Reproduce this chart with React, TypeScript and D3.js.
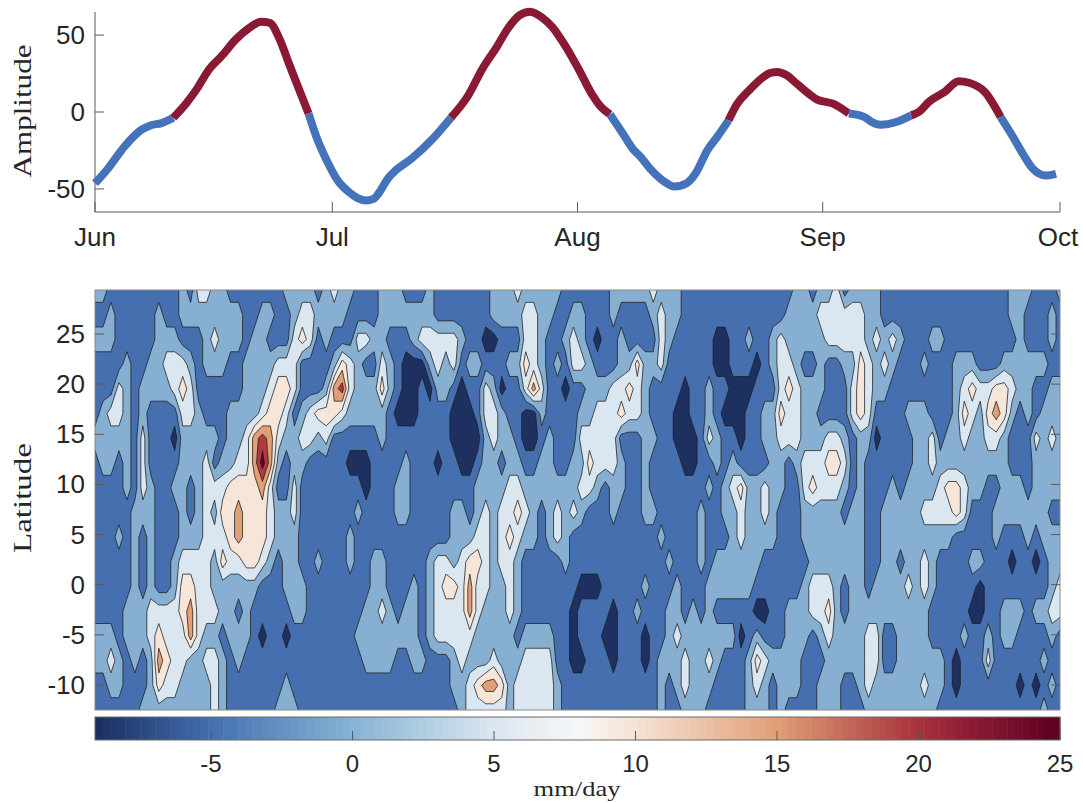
import React, { useEffect, useRef } from "react";
import * as d3 from "d3";

// top panel: amplitude
const ampDays = [0, 1.6, 3.8, 5.9, 7, 8.4, 9.9, 11.5, 12.9, 14.4, 16, 17.8, 19.6, 21, 22.1, 23.3, 24.6, 26, 27, 28, 29.3, 30.7, 32.1, 33.2, 34.3, 35.2, 36.1, 37, 38, 40, 42.7, 45, 47.2, 49, 50.8, 52.2, 53.7, 55, 56.5, 57.8, 59.4, 61.1, 62.9, 63.8, 65.1, 66.6, 68, 69, 70.2, 71.5, 72.4, 73.2, 74.8, 75.9, 77.4, 78.8, 80.1, 81.2, 82.7, 84.5, 85.4, 86.3, 87.4, 88.7, 90.2, 91.3, 93.3, 95.3, 97.3, 98.2, 99.3, 101.3, 103.2, 104.3, 105.4, 107.4, 109.2, 110.5, 112.5, 114.5, 115.8, 117.4, 118.5, 120.2, 121.5];
const ampValues = [-46.3, -37, -22, -11.5, -8.7, -7.2, -3.7, 5.4, 15.2, 27.6, 36.3, 47.2, 55, 58.7, 58, 47.8, 30.4, 12, -1, -16.3, -31.5, -44.6, -52, -56, -57.6, -56.5, -51, -43.5, -38, -30.4, -17.4, -3.7, 10.9, 28.3, 42.4, 54.3, 63, 65.2, 61.5, 55.4, 43.5, 28.3, 10.9, 4.3, -1.5, -13, -24, -29.3, -37, -43.5, -46.7, -48.5, -46.3, -40.2, -25, -15.2, -5.4, 5.4, 14.1, 22.8, 25.4, 26, 24, 18.5, 12, 8, 5.4, -1, -3.3, -6.5, -8.3, -6.5, -2.2, 0.6, 6.5, 13, 20, 19, 13, -3.3, -14, -28, -36.5, -41.3, -40.2];
// days where the curve swaps colour, starting blue
const phaseSwitchDays = [9.9, 27, 45, 65.1, 80.1, 95.3, 103.2, 114.5];
const monthDays = [0, 30, 61, 92, 122];
const monthLabels = ["Jun", "Jul", "Aug", "Sep", "Oct"];
const ampTicks = [-50, 0, 50];

// bottom panel
const latTicks = [-10, -5, 0, 5, 10, 15, 20, 25];
const cbTicks = [-5, 0, 5, 10, 15, 20, 25];
const contourLevels = [-5, 0, 5, 10, 15, 20, 25];
const bandValues = [-7.5, -2.5, 2.5, 7.5, 12.5, 17.5, 22.5, 27.5];
const bandColors = ["#1d3060", "#456fae", "#87afd2", "#dae6f0", "#f6e5d9", "#e09f76", "#b03a40", "#67001f"];
const cmapValues = [-9.1, -5, 0, 5, 8, 10, 15, 20, 22, 25];
const cmapColors = ["#1b2d5f", "#4270b0", "#86b3d4", "#dbe6f0", "#f7f7f7", "#f6e2d3", "#e09f76", "#a8323c", "#8a1a33", "#5a0020"];

// rain rows from north to south, as band, end-day pairs (run lengths over 122 days)
const rainRuns = [
  [2,2, 1,11, 2,12, 1,13, 3,15, 2,17, 1,24, 2,28, 1,29, 2,30, 3,31, 2,33, 1,36, 2,39, 1,42, 2,43, 1,50, 2,53, 3,54, 2,59, 1,65, 2,70, 3,71, 2,74, 1,88, 2,90, 1,91, 2,93, 3,94, 1,95, 2,99, 1,115, 2,118, 1,121, 2,122],
  [1,2, 2,3, 1,8, 2,9, 1,11, 2,19, 1,21, 2,23, 1,25, 2,26, 3,28, 2,32, 1,36, 2,43, 1,50, 2,54, 3,56, 2,58, 1,60, 2,62, 1,65, 2,66, 1,70, 2,71, 3,72, 2,74, 1,87, 2,91, 3,97, 2,99, 1,115, 2,117, 1,120, 2,121, 1,122],
  [2,3, 1,8, 2,11, 1,14, 2,15, 3,16, 2,19, 1,20, 2,22, 1,25, 3,26, 4,27, 3,28, 1,29, 2,30, 1,33, 3,35, 2,37, 1,40, 2,41, 3,46, 2,47, 1,49, 0,51, 1,54, 3,56, 2,57, 1,59, 2,60, 3,61, 2,62, 1,63, 0,64, 1,66, 2,67, 1,71, 3,72, 2,73, 1,78, 0,80, 1,82, 2,83, 1,85, 2,86, 3,87, 2,92, 3,97, 2,98, 3,99, 2,100, 3,101, 2,102, 1,105, 2,107, 1,116, 2,117, 1,120, 2,121, 1,122],
  [1,4, 2,5, 1,7, 2,9, 3,12, 2,13, 1,14, 2,17, 1,19, 2,23, 3,26, 1,30, 2,31, 4,32, 3,33, 2,34, 1,36, 3,37, 2,38, 1,39, 0,42, 2,43, 3,44, 2,45, 3,46, 1,47, 2,49, 1,52, 2,54, 4,55, 3,56, 2,57, 1,58, 2,59, 1,60, 3,62, 2,63, 1,66, 2,68, 4,69, 2,71, 3,72, 1,78, 0,80, 1,83, 0,84, 1,85, 2,86, 3,88, 2,89, 1,91, 2,92, 1,94, 2,96, 4,97, 3,98, 2,99, 3,100, 2,101, 1,104, 2,105, 1,108, 2,111, 1,114, 2,120, 1,122],
  [1,3, 3,4, 2,5, 1,6, 2,10, 3,11, 4,12, 3,13, 1,19, 2,22, 3,23, 4,25, 3,26, 1,29, 2,30, 5,31, 6,32, 3,33, 2,36, 4,37, 2,38, 1,39, 0,41, 1,42, 0,43, 2,45, 1,46, 0,47, 1,49, 3,50, 2,51, 0,52, 1,54, 3,55, 5,56, 3,57, 1,59, 0,60, 1,62, 2,65, 3,67, 4,68, 3,69, 2,70, 1,74, 0,75, 1,77, 2,78, 1,80, 0,83, 1,86, 3,87, 4,88, 3,89, 2,92, 1,95, 3,96, 4,97, 3,98, 2,100, 1,108, 2,109, 3,110, 4,111, 3,113, 4,115, 3,116, 2,118, 1,120, 2,122],
  [1,1, 2,2, 3,4, 2,5, 1,6, 2,7, 1,11, 3,13, 2,14, 1,17, 2,21, 3,22, 4,24, 3,25, 1,26, 2,27, 3,28, 4,31, 3,32, 2,37, 1,38, 0,41, 1,45, 0,48, 1,49, 3,51, 2,52, 1,54, 0,56, 2,57, 1,61, 2,63, 3,66, 4,67, 3,69, 2,70, 1,73, 0,75, 1,77, 2,78, 1,79, 0,82, 1,84, 2,86, 4,87, 3,89, 2,91, 1,95, 3,96, 4,97, 3,98, 1,102, 2,105, 1,108, 2,109, 4,110, 3,111, 2,112, 4,113, 5,114, 4,115, 2,116, 1,117, 2,118, 1,119, 2,122],
  [2,5, 1,6, 3,7, 1,10, 0,11, 2,16, 1,17, 2,19, 3,20, 5,21, 6,22, 5,23, 3,24, 2,26, 3,28, 2,29, 3,30, 1,36, 2,37, 1,45, 0,49, 2,50, 3,51, 2,53, 1,54, 0,56, 1,57, 2,58, 1,61, 3,66, 1,69, 2,71, 1,73, 0,76, 1,77, 3,78, 2,79, 1,81, 0,82, 1,84, 2,86, 3,89, 2,92, 3,94, 2,95, 1,96, 2,98, 0,99, 1,103, 2,105, 3,106, 1,107, 2,109, 3,110, 2,112, 3,114, 2,115, 1,118, 3,119, 2,120, 3,121, 2,122],
  [1,1, 2,3, 1,4, 2,5, 1,6, 3,7, 1,11, 2,14, 3,15, 1,16, 2,18, 3,20, 5,21, 7,22, 5,23, 2,24, 1,25, 2,27, 1,32, 0,35, 1,39, 2,40, 1,43, 0,44, 1,46, 0,48, 1,49, 2,51, 1,52, 2,54, 1,56, 2,58, 1,60, 2,62, 4,63, 3,66, 2,67, 1,69, 2,70, 1,74, 0,76, 1,78, 2,79, 1,80, 2,81, 1,85, 2,87, 1,88, 2,89, 3,92, 4,94, 3,95, 1,96, 2,97, 1,103, 2,105, 3,106, 2,115, 1,118, 2,122],
  [1,4, 2,5, 1,6, 3,7, 2,8, 1,10, 2,12, 1,13, 2,14, 3,17, 4,21, 5,22, 3,23, 1,25, 3,26, 1,34, 0,35, 1,38, 2,40, 1,48, 2,52, 3,54, 2,61, 3,63, 2,64, 1,65, 2,67, 1,69, 2,70, 1,77, 2,78, 1,79, 2,80, 3,81, 4,82, 2,84, 3,85, 2,87, 1,89, 3,90, 4,91, 3,94, 2,95, 1,96, 2,97, 1,100, 2,101, 1,102, 2,106, 3,107, 4,109, 3,110, 2,112, 1,114, 2,117, 1,118, 2,122],
  [1,5, 2,8, 1,11, 2,12, 1,13, 2,14, 3,15, 2,16, 4,18, 5,19, 4,22, 3,23, 2,25, 3,26, 1,33, 2,34, 1,38, 2,40, 1,45, 2,47, 1,48, 2,49, 3,50, 2,51, 3,53, 4,54, 3,55, 2,56, 1,57, 2,58, 3,59, 2,60, 3,61, 2,62, 1,65, 2,66, 1,69, 2,71, 1,76, 2,77, 1,79, 2,81, 3,82, 2,84, 3,85, 2,86, 1,89, 2,94, 1,95, 2,97, 1,99, 2,104, 3,108, 4,109, 3,110, 1,113, 2,120, 1,122],
  [1,3, 2,4, 1,5, 2,6, 1,7, 2,8, 1,11, 2,14, 3,17, 4,18, 5,19, 4,22, 3,23, 2,26, 1,32, 2,33, 1,45, 2,48, 3,50, 2,51, 3,52, 4,53, 3,54, 2,56, 1,57, 2,58, 3,59, 2,60, 1,71, 2,72, 1,76, 2,77, 1,80, 2,81, 3,82, 2,86, 1,89, 2,97, 1,99, 2,108, 1,113, 2,114, 1,117, 2,118, 1,119, 2,122],
  [1,5, 2,6, 1,7, 2,8, 1,10, 2,11, 3,15, 2,16, 4,17, 3,19, 4,21, 3,22, 2,23, 1,24, 2,26, 1,28, 2,29, 1,32, 2,33, 1,35, 2,37, 1,42, 2,43, 3,45, 2,46, 3,47, 4,49, 3,50, 2,51, 3,53, 2,54, 1,59, 2,60, 1,72, 2,73, 1,76, 2,77, 1,78, 2,84, 1,90, 2,97, 1,99, 2,101, 1,102, 2,104, 3,105, 2,106, 1,110, 2,112, 1,115, 0,116, 1,118, 0,119, 1,120, 2,122],
  [1,5, 2,6, 1,7, 2,8, 1,10, 2,11, 4,13, 3,15, 2,21, 1,24, 2,27, 1,35, 2,37, 1,40, 2,41, 1,42, 2,43, 3,44, 4,46, 3,47, 5,48, 3,50, 2,52, 3,53, 2,54, 1,61, 0,64, 1,69, 2,70, 1,73, 2,74, 1,77, 2,83, 1,89, 2,90, 3,93, 2,94, 1,95, 2,97, 1,98, 2,102, 3,103, 2,104, 3,105, 2,106, 1,111, 0,112, 1,120, 2,121, 3,122],
  [1,4, 2,7, 3,11, 4,12, 5,13, 3,16, 2,18, 1,19, 2,20, 1,25, 2,27, 1,34, 2,36, 3,37, 2,38, 1,39, 2,41, 1,42, 2,43, 3,47, 5,48, 3,49, 2,52, 3,53, 2,54, 1,60, 0,61, 1,65, 0,66, 1,68, 2,69, 1,72, 2,74, 1,75, 2,76, 1,77, 2,78, 1,83, 0,85, 1,87, 2,90, 3,92, 4,93, 2,94, 1,95, 2,105, 1,110, 0,112, 1,114, 2,117, 1,118, 2,120, 3,122],
  [2,3, 1,4, 2,7, 3,8, 4,9, 3,12, 5,13, 3,14, 2,16, 1,17, 2,20, 1,21, 0,22, 1,24, 0,25, 1,33, 2,41, 1,42, 2,43, 3,48, 2,53, 1,54, 2,58, 1,60, 0,61, 1,64, 0,66, 1,69, 0,70, 1,72, 2,73, 3,74, 2,81, 0,82, 1,83, 2,84, 1,87, 2,90, 1,91, 2,92, 3,93, 2,97, 3,99, 1,101, 2,105, 1,109, 2,110, 1,112, 2,113, 1,114, 2,116, 1,120, 2,121, 1,122],
  [2,2, 3,3, 2,4, 1,5, 2,6, 1,7, 2,8, 5,9, 4,10, 3,12, 2,14, 3,16, 2,17, 1,18, 2,19, 1,34, 2,38, 1,40, 2,42, 1,45, 2,46, 3,47, 2,50, 3,51, 2,54, 3,58, 1,60, 0,62, 1,65, 0,66, 1,69, 0,70, 1,71, 2,74, 3,75, 2,77, 3,78, 2,79, 1,82, 2,83, 4,84, 3,85, 2,89, 1,92, 2,97, 3,99, 1,101, 2,107, 1,108, 0,109, 1,112, 3,113, 1,119, 2,120, 1,122],
  [1,2, 2,4, 1,7, 2,8, 4,9, 3,11, 2,15, 3,16, 2,17, 1,24, 2,25, 1,45, 2,47, 3,48, 4,49, 5,51, 4,52, 2,53, 3,58, 2,59, 1,71, 2,72, 1,73, 2,74, 3,75, 2,78, 1,82, 2,83, 3,84, 2,85, 1,86, 2,89, 1,91, 2,94, 1,96, 2,97, 3,98, 2,104, 3,105, 2,107, 1,108, 0,109, 1,116, 0,117, 1,118, 0,119, 1,120, 2,121, 1,122],
  [1,6, 2,15, 3,16, 2,17, 1,23, 2,26, 1,46, 2,47, 3,52, 2,53, 3,58, 2,59, 1,71, 2,72, 1,74, 2,77, 1,82, 2,85, 1,86, 2,87, 1,91, 2,94, 1,97, 2,106, 1,119, 2,120, 1,122],
];

const nCols = 122;
const nRows = rainRuns.length;

const textCol = "#262626";
const axisCol = "#5a5a5a";
const sansFont = "'Liberation Sans', Arial, sans-serif";
const serifFont = "'Liberation Serif', serif";

const App = () => {
  const svgRef = useRef<SVGSVGElement>(null);

  useEffect(() => {
    const svg = d3.select(svgRef.current);
    svg.selectAll("*").remove();

    const left = 95;
    const right = 1060;

    // amplitude panel
    const xDay = d3.scaleLinear().domain([0, 122]).range([left, right]);
    const yAmp = d3.scaleLinear().domain([-65, 65]).range([212, 12]);
    const ampPts = ampDays.map((d, i) => ({ d, v: ampValues[i] }));
    const edges = [0, ...phaseSwitchDays, 122];
    const ampLine = d3.line<any>().x((p) => xDay(p.d)).y((p) => yAmp(p.v)).curve(d3.curveMonotoneX);

    const top = svg.append("g");
    top.append("line").attr("x1", left).attr("x2", left).attr("y1", 12).attr("y2", 212).attr("stroke", axisCol);
    top.append("line").attr("x1", left).attr("x2", right).attr("y1", 212).attr("y2", 212).attr("stroke", axisCol);
    ampTicks.forEach((t) => {
      top.append("line").attr("x1", left).attr("x2", left + 9).attr("y1", yAmp(t)).attr("y2", yAmp(t)).attr("stroke", axisCol);
      top.append("text").attr("x", left - 10).attr("y", yAmp(t) + 9).attr("text-anchor", "end")
        .attr("font-family", sansFont).attr("font-size", 26).attr("fill", textCol).text(t);
    });
    monthDays.forEach((d, i) => {
      top.append("line").attr("x1", xDay(d)).attr("x2", xDay(d)).attr("y1", 212).attr("y2", 202).attr("stroke", axisCol);
      top.append("text").attr("x", xDay(d) + (i === 4 ? -2 : 0)).attr("y", 246).attr("text-anchor", "middle")
        .attr("font-family", sansFont).attr("font-size", 26).attr("fill", textCol).text(monthLabels[i]);
    });
    for (let s = 0; s < edges.length - 1; s++) {
      const seg = ampPts.filter((p) => p.d >= edges[s] && p.d <= edges[s + 1]);
      top.append("path").attr("d", ampLine(seg)).attr("fill", "none")
        .attr("stroke", s % 2 === 0 ? "#4472bb" : "#8a1a33").attr("stroke-width", 8).attr("stroke-linejoin", "round");
    }
    top.append("text").attr("transform", "translate(31,111) rotate(-90)").attr("text-anchor", "middle")
      .attr("font-family", serifFont).attr("font-size", 25).attr("fill", textCol)
      .attr("textLength", 133).attr("lengthAdjust", "spacingAndGlyphs").text("Amplitude");

    // contour panel
    const yLat = d3.scaleLinear().domain([-10, 25]).range([685, 334]);
    const xCell = d3.scaleLinear().domain([0, nCols - 1]).range([left, right]);
    const yCell = d3.scaleLinear().domain([0, nRows - 1]).range([290, 710]);

    const grid: number[] = [];
    rainRuns.forEach((runs) => {
      let col = 0;
      for (let k = 0; k < runs.length; k += 2) {
        while (col < runs[k + 1] && col < nCols) {
          grid.push(bandValues[runs[k]]);
          col++;
        }
      }
    });

    const contours = d3.contours().size([nCols, nRows]).thresholds(contourLevels)(grid);
    const transform = d3.geoTransform({
      point(x: number, y: number) {
        (this as any).stream.point(xCell(x - 0.5), yCell(y - 0.5));
      },
    });
    const geo = d3.geoPath(transform);

    svg.append("clipPath").attr("id", "plotClip").append("rect")
      .attr("x", left).attr("y", 290).attr("width", right - left).attr("height", 420);

    const panel = svg.append("g").attr("clip-path", "url(#plotClip)");
    panel.append("rect").attr("x", left).attr("y", 290).attr("width", right - left).attr("height", 420).attr("fill", bandColors[0]);
    panel.selectAll("path").data(contours).enter().append("path")
      .attr("d", (c: any) => geo(c))
      .attr("fill", (c: any, i: number) => bandColors[i + 1])
      .attr("stroke", "#1e1e1e").attr("stroke-opacity", 0.85).attr("stroke-width", 0.9).attr("stroke-linejoin", "round");

    const frame = svg.append("g");
    frame.append("rect").attr("x", left).attr("y", 290).attr("width", right - left).attr("height", 420)
      .attr("fill", "none").attr("stroke", "#8a8a8a");
    latTicks.forEach((t) => {
      frame.append("line").attr("x1", left).attr("x2", left + 9).attr("y1", yLat(t)).attr("y2", yLat(t)).attr("stroke", axisCol);
      frame.append("line").attr("x1", right - 9).attr("x2", right).attr("y1", yLat(t)).attr("y2", yLat(t)).attr("stroke", axisCol);
      frame.append("text").attr("x", left - 10).attr("y", yLat(t) + 9).attr("text-anchor", "end")
        .attr("font-family", sansFont).attr("font-size", 26).attr("fill", textCol).text(t);
    });
    frame.append("text").attr("transform", "translate(31,498) rotate(-90)").attr("text-anchor", "middle")
      .attr("font-family", serifFont).attr("font-size", 25).attr("fill", textCol)
      .attr("textLength", 110).attr("lengthAdjust", "spacingAndGlyphs").text("Latitude");

    // colorbar, stepped like the MATLAB map
    const cbSteps = 128;
    const cbScale = d3.scaleLinear().domain([-9.1, 25]).range([left, right]);
    const cmap = d3.scaleLinear<string>().domain(cmapValues).range(cmapColors).interpolate(d3.interpolateRgb);
    const stepW = (right - left) / cbSteps;
    const cb = svg.append("g");
    cb.selectAll("rect").data(d3.range(cbSteps)).enter().append("rect")
      .attr("x", (i) => left + i * stepW).attr("y", 717).attr("width", stepW + 0.5).attr("height", 23)
      .attr("fill", (i) => cmap(cbScale.invert(left + (i + 0.5) * stepW)));
    cb.append("rect").attr("x", left).attr("y", 717).attr("width", right - left).attr("height", 23)
      .attr("fill", "none").attr("stroke", "#6a6a6a");
    cbTicks.forEach((t) => {
      cb.append("line").attr("x1", cbScale(t)).attr("x2", cbScale(t)).attr("y1", 740).attr("y2", 731).attr("stroke", axisCol);
      cb.append("text").attr("x", cbScale(t)).attr("y", 772).attr("text-anchor", "middle")
        .attr("font-family", sansFont).attr("font-size", 24).attr("fill", textCol).text(t);
    });
    cb.append("text").attr("x", 577).attr("y", 796).attr("text-anchor", "middle")
      .attr("font-family", serifFont).attr("font-size", 21).attr("fill", textCol)
      .attr("textLength", 87).attr("lengthAdjust", "spacingAndGlyphs").text("mm/day");
  }, []);

  return (
    <svg
      ref={svgRef}
      width={1083}
      height={803}
      style={{ position: "absolute", left: 0, top: 0, display: "block", background: "#fff" }}
    />
  );
};

export default App;
